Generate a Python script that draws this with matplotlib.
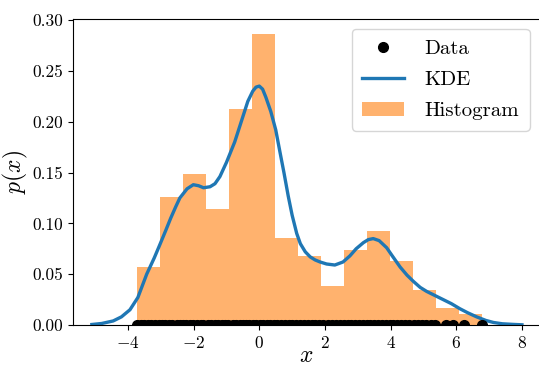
import numpy as np
import matplotlib
matplotlib.use("Agg")
import matplotlib.pyplot as plt

plt.rcParams['font.family'] = 'serif'
plt.rcParams['font.serif'] = ['cmr10']
plt.rcParams['mathtext.fontset'] = 'cm'
plt.rcParams['axes.formatter.use_mathtext'] = True

# histogram (density)
bin_edges = [-3.72, -3.02, -2.32, -1.62, -0.92, -0.22, 0.48, 1.18, 1.88,
             2.58, 3.28, 3.98, 4.68, 5.38, 6.08, 6.78]
hist_heights = [0.057, 0.126, 0.149, 0.114, 0.212, 0.286, 0.086, 0.068,
                0.038, 0.074, 0.092, 0.063, 0.034, 0.017, 0.011]

# KDE curve
kde_x = [-5.1, -4.8, -4.45, -4.2, -3.94, -3.7, -3.43, -3.2, -3.03, -2.85,
         -2.7, -2.55, -2.42, -2.2, -2.01, -1.85, -1.7, -1.5, -1.35, -1.2,
         -1.0, -0.75, -0.5, -0.35, -0.2, -0.1, 0.0, 0.1, 0.2, 0.35, 0.5,
         0.63, 0.75, 0.88, 1.0, 1.14, 1.25, 1.4, 1.55, 1.7, 1.85, 2.05,
         2.3, 2.55, 2.76, 2.95, 3.17, 3.32, 3.47, 3.65, 3.88, 4.05, 4.29,
         4.5, 4.69, 4.9, 5.1, 5.35, 5.6, 5.85, 6.11, 6.35, 6.62, 6.9, 7.13,
         7.4, 7.73, 8.0]
kde_y = [0.0005, 0.0015, 0.004, 0.008, 0.015, 0.027, 0.050, 0.066, 0.079,
         0.093, 0.105, 0.116, 0.125, 0.134, 0.138, 0.137, 0.135, 0.136,
         0.139, 0.146, 0.160, 0.180, 0.205, 0.220, 0.230, 0.234, 0.235,
         0.232, 0.224, 0.210, 0.192, 0.170, 0.150, 0.127, 0.108, 0.090,
         0.080, 0.072, 0.067, 0.064, 0.062, 0.060, 0.059, 0.062, 0.068,
         0.075, 0.081, 0.084, 0.085, 0.083, 0.076, 0.068, 0.057, 0.049,
         0.043, 0.037, 0.033, 0.029, 0.025, 0.021, 0.016, 0.012, 0.008,
         0.0045, 0.0025, 0.0012, 0.0006, 0.0002]

# sample points (rug at y = 0)
data_x = [-3.72, -3.6, -3.5, -3.38, -3.3, -3.17, -3.05, -2.95, -2.86, -2.74,
          -2.65, -2.52, -2.43, -2.31, -2.22, -2.1, -2.01, -1.9, -1.78, -1.7,
          -1.57, -1.46, -1.35, -1.27, -1.14, -1.03, -0.94, -0.81, -0.72,
          -0.6, -0.51, -0.4, -0.3, -0.18, -0.09, 0.02, 0.11, 0.23, 0.32,
          0.44, 0.55, 0.66, 0.77, 0.9, 1.01, 1.13, 1.25, 1.36, 1.48, 1.6,
          1.71, 1.83, 1.95, 2.08, 2.2, 2.33, 2.45, 2.57, 2.69, 2.8, 2.92,
          3.04, 3.15, 3.27, 3.38, 3.5, 3.61, 3.73, 3.85, 3.97, 4.08, 4.2,
          4.33, 4.45, 4.57, 4.7, 4.82, 4.95, 5.08, 5.22, 5.35, 5.7, 5.9,
          6.25, 6.77]

fig = plt.figure(figsize=(5.39, 3.67), dpi=100)
ax = fig.add_axes([73 / 539, 42 / 367, 467 / 539, 306.5 / 367])

widths = np.diff(bin_edges)
bars = ax.bar(bin_edges[:-1], hist_heights, width=widths, align='edge',
              color='C1', alpha=0.6, label='Histogram')
kde_line, = ax.plot(kde_x, kde_y, color='C0', lw=2.4, label='KDE')
dots, = ax.plot(data_x, np.zeros(len(data_x)), 'o', color='black', ms=7,
                label='Data')

ax.set_xlim(-5.675, 8.55)
ax.set_ylim(0, 0.3015)
ax.set_xticks([-4, -2, 0, 2, 4, 6, 8])
ax.set_yticks([0.0, 0.05, 0.10, 0.15, 0.20, 0.25, 0.30])
ax.set_yticklabels(['0.00', '0.05', '0.10', '0.15', '0.20', '0.25', '0.30'])
ax.tick_params(labelsize=12.5)
ax.set_xlabel('$x$', fontsize=17, labelpad=-4)
ax.set_ylabel('$p(x)$', fontsize=17, labelpad=2)

ax.legend([dots, kde_line, bars], ['Data', 'KDE', 'Histogram'],
          loc='upper right', fontsize=15, handlelength=2.0,
          labelspacing=0.6, borderpad=0.5, handletextpad=1.0)

fig.savefig('out.png', dpi=100)
